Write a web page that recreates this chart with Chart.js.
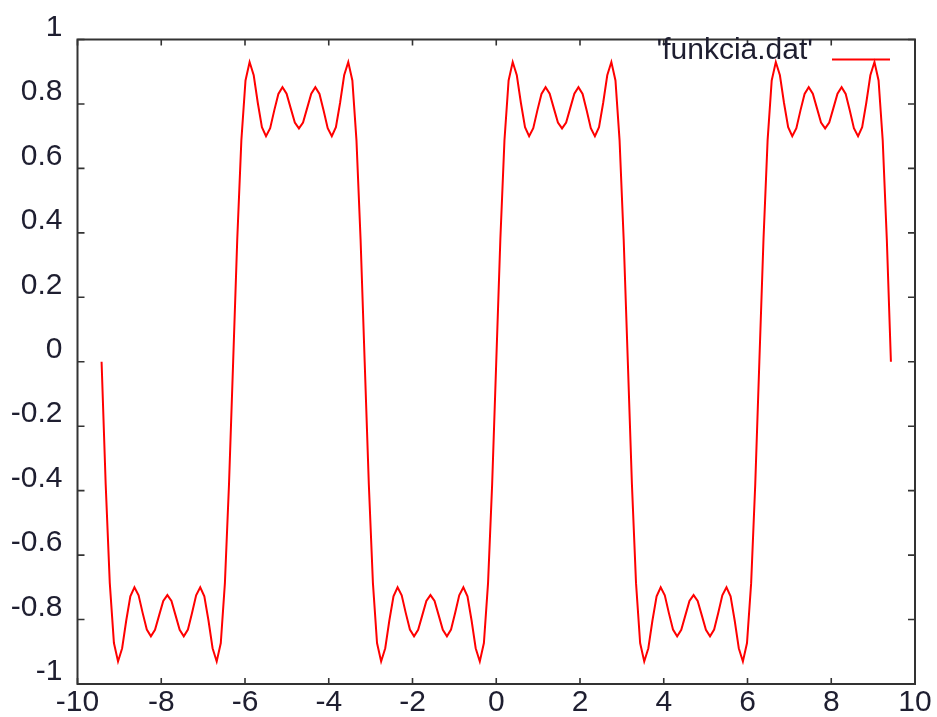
<!DOCTYPE html>
<html>
<head>
<meta charset="utf-8">
<title>funkcia.dat</title>
<script src="https://cdn.jsdelivr.net/npm/chart.js@4.4.1/dist/chart.umd.min.js"></script>
<style>
  html, body { margin: 0; padding: 0; background: #fff; }
  #wrap { width: 937px; height: 717px; position: relative; }
</style>
</head>
<body>
<div id="wrap"><canvas id="plot"></canvas></div>
<script>
// gnuplot style plot of 'funkcia.dat'
const seriesLabel = "'funkcia.dat'";

const xTicks = [-10, -8, -6, -4, -2, 0, 2, 4, 6, 8, 10];
const yTicks = [-1, -0.8, -0.6, -0.4, -0.2, 0, 0.2, 0.4, 0.6, 0.8, 1];

// sample positions (-3pi .. 3pi)
const xValues = [
  -9.425, -9.327, -9.229, -9.130, -9.032, -8.934, -8.836, -8.738, -8.640, -8.541, -8.443, -8.345, -8.247, -8.149, -8.051, -7.952,
  -7.854, -7.756, -7.658, -7.560, -7.462, -7.363, -7.265, -7.167, -7.069, -6.971, -6.872, -6.774, -6.676, -6.578, -6.480, -6.382,
  -6.283, -6.185, -6.087, -5.988, -5.890, -5.792, -5.694, -5.596, -5.498, -5.399, -5.301, -5.203, -5.105, -5.007, -4.909, -4.810,
  -4.712, -4.614, -4.516, -4.418, -4.320, -4.221, -4.123, -4.025, -3.927, -3.829, -3.730, -3.632, -3.534, -3.436, -3.338, -3.240,
  -3.142, -3.043, -2.945, -2.847, -2.749, -2.651, -2.553, -2.454, -2.356, -2.258, -2.160, -2.062, -1.963, -1.865, -1.767, -1.669,
  -1.571, -1.473, -1.374, -1.276, -1.178, -1.080, -0.982, -0.884, -0.785, -0.687, -0.589, -0.491, -0.393, -0.295, -0.196, -0.098,
  0.000, 0.098, 0.196, 0.295, 0.393, 0.491, 0.589, 0.687, 0.785, 0.884, 0.982, 1.080, 1.178, 1.276, 1.374, 1.473,
  1.571, 1.669, 1.767, 1.865, 1.963, 2.062, 2.160, 2.258, 2.356, 2.454, 2.553, 2.651, 2.749, 2.847, 2.945, 3.043,
  3.142, 3.240, 3.338, 3.436, 3.534, 3.632, 3.730, 3.829, 3.927, 4.025, 4.123, 4.221, 4.320, 4.418, 4.516, 4.614,
  4.712, 4.810, 4.909, 5.007, 5.105, 5.203, 5.301, 5.399, 5.498, 5.596, 5.694, 5.792, 5.890, 5.988, 6.087, 6.185,
  6.283, 6.382, 6.480, 6.578, 6.676, 6.774, 6.872, 6.971, 7.069, 7.167, 7.265, 7.363, 7.462, 7.560, 7.658, 7.756,
  7.854, 7.952, 8.051, 8.149, 8.247, 8.345, 8.443, 8.541, 8.640, 8.738, 8.836, 8.934, 9.032, 9.130, 9.229, 9.327,
  9.425,
];

const yValues = [
  0.000, -0.380, -0.687, -0.873, -0.930, -0.889, -0.803, -0.728, -0.700, -0.725, -0.780, -0.831, -0.852, -0.832, -0.787, -0.742,
  -0.724, -0.742, -0.787, -0.832, -0.852, -0.831, -0.780, -0.725, -0.700, -0.728, -0.803, -0.889, -0.930, -0.873, -0.687, -0.380,
  0.000, 0.380, 0.687, 0.873, 0.930, 0.889, 0.803, 0.728, 0.700, 0.725, 0.780, 0.831, 0.852, 0.832, 0.787, 0.742,
  0.724, 0.742, 0.787, 0.832, 0.852, 0.831, 0.780, 0.725, 0.700, 0.728, 0.803, 0.889, 0.930, 0.873, 0.687, 0.380,
  0.000, -0.380, -0.687, -0.873, -0.930, -0.889, -0.803, -0.728, -0.700, -0.725, -0.780, -0.831, -0.852, -0.832, -0.787, -0.742,
  -0.724, -0.742, -0.787, -0.832, -0.852, -0.831, -0.780, -0.725, -0.700, -0.728, -0.803, -0.889, -0.930, -0.873, -0.687, -0.380,
  0.000, 0.380, 0.687, 0.873, 0.930, 0.889, 0.803, 0.728, 0.700, 0.725, 0.780, 0.831, 0.852, 0.832, 0.787, 0.742,
  0.724, 0.742, 0.787, 0.832, 0.852, 0.831, 0.780, 0.725, 0.700, 0.728, 0.803, 0.889, 0.930, 0.873, 0.687, 0.380,
  0.000, -0.380, -0.687, -0.873, -0.930, -0.889, -0.803, -0.728, -0.700, -0.725, -0.780, -0.831, -0.852, -0.832, -0.787, -0.742,
  -0.724, -0.742, -0.787, -0.832, -0.852, -0.831, -0.780, -0.725, -0.700, -0.728, -0.803, -0.889, -0.930, -0.873, -0.687, -0.380,
  0.000, 0.380, 0.687, 0.873, 0.930, 0.889, 0.803, 0.728, 0.700, 0.725, 0.780, 0.831, 0.852, 0.832, 0.787, 0.742,
  0.724, 0.742, 0.787, 0.832, 0.852, 0.831, 0.780, 0.725, 0.700, 0.728, 0.803, 0.889, 0.930, 0.873, 0.687, 0.380,
  0.000,
];

const TEXT_COLOR = '#1e1e30';
const FRAME_COLOR = '#333333';
const LINE_COLOR = '#ff0000';
const FONT = { family: '"Liberation Sans", Arial, sans-serif', size: 30 };

// box with inward (mirrored) tics, like gnuplot's default border
const gnuplotFrame = {
  id: 'gnuplotFrame',
  beforeDatasetsDraw(chart) {
    const { ctx, chartArea: a, scales: { x, y } } = chart;
    ctx.save();
    ctx.strokeStyle = FRAME_COLOR;
    ctx.lineWidth = 2;
    ctx.strokeRect(a.left, a.top, a.right - a.left, a.bottom - a.top);
    ctx.lineWidth = 1.6;
    ctx.beginPath();
    xTicks.forEach(v => {
      const px = x.getPixelForValue(v);
      ctx.moveTo(px, a.bottom); ctx.lineTo(px, a.bottom - 6);
      ctx.moveTo(px, a.top);    ctx.lineTo(px, a.top + 6);
    });
    yTicks.forEach(v => {
      const py = y.getPixelForValue(v);
      ctx.moveTo(a.left, py);  ctx.lineTo(a.left + 7, py);
      ctx.moveTo(a.right, py); ctx.lineTo(a.right - 7, py);
    });
    ctx.stroke();
    ctx.restore();
  },
  // key in the top right corner: title first, then a line sample
  afterDraw(chart) {
    const { ctx, chartArea: a } = chart;
    const ds = chart.data.datasets[0];
    ctx.save();
    ctx.font = `${FONT.size}px ${FONT.family}`;
    ctx.fillStyle = TEXT_COLOR;
    ctx.textAlign = 'right';
    ctx.textBaseline = 'alphabetic';
    ctx.fillText(ds.label, a.right - 102, a.top + 19);
    ctx.strokeStyle = ds.borderColor;
    ctx.lineWidth = 2;
    ctx.beginPath();
    ctx.moveTo(a.right - 83, a.top + 20);
    ctx.lineTo(a.right - 25, a.top + 20);
    ctx.stroke();
    ctx.restore();
  },
};

const ctx = document.getElementById('plot').getContext('2d');
new Chart(ctx, {
  type: 'line',
  data: {
    datasets: [{
      label: seriesLabel,
      data: xValues.map((x, i) => ({ x, y: yValues[i] })),
      borderColor: LINE_COLOR,
      backgroundColor: 'transparent',
      borderWidth: 2,
      pointRadius: 0,
      tension: 0,
      fill: false,
    }],
  },
  options: {
    responsive: true,
    maintainAspectRatio: false,
    animation: false,
    layout: { padding: { left: 0, right: 22, top: 39.5, bottom: 0 } },
    plugins: {
      legend: { display: false },
      tooltip: { enabled: false },
    },
    scales: {
      x: {
        type: 'linear',
        min: -10,
        max: 10,
        afterBuildTicks: s => { s.ticks = xTicks.map(v => ({ value: v })); },
        afterFit: s => { s.height = 31; },
        ticks: {
          font: FONT,
          color: TEXT_COLOR,
          padding: 1,
          maxRotation: 0,
          callback: v => String(v),
        },
        grid: { display: false, drawTicks: false },
        border: { display: false },
      },
      y: {
        type: 'linear',
        min: -1,
        max: 1,
        afterBuildTicks: s => { s.ticks = yTicks.map(v => ({ value: v })); },
        afterFit: s => { s.width = 77.5; },
        ticks: {
          font: FONT,
          color: TEXT_COLOR,
          padding: 15,
          labelOffset: -12,
          callback: v => String(+v.toFixed(1)),
        },
        grid: { display: false, drawTicks: false },
        border: { display: false },
      },
    },
  },
  plugins: [gnuplotFrame],
});
</script>
</body>
</html>
